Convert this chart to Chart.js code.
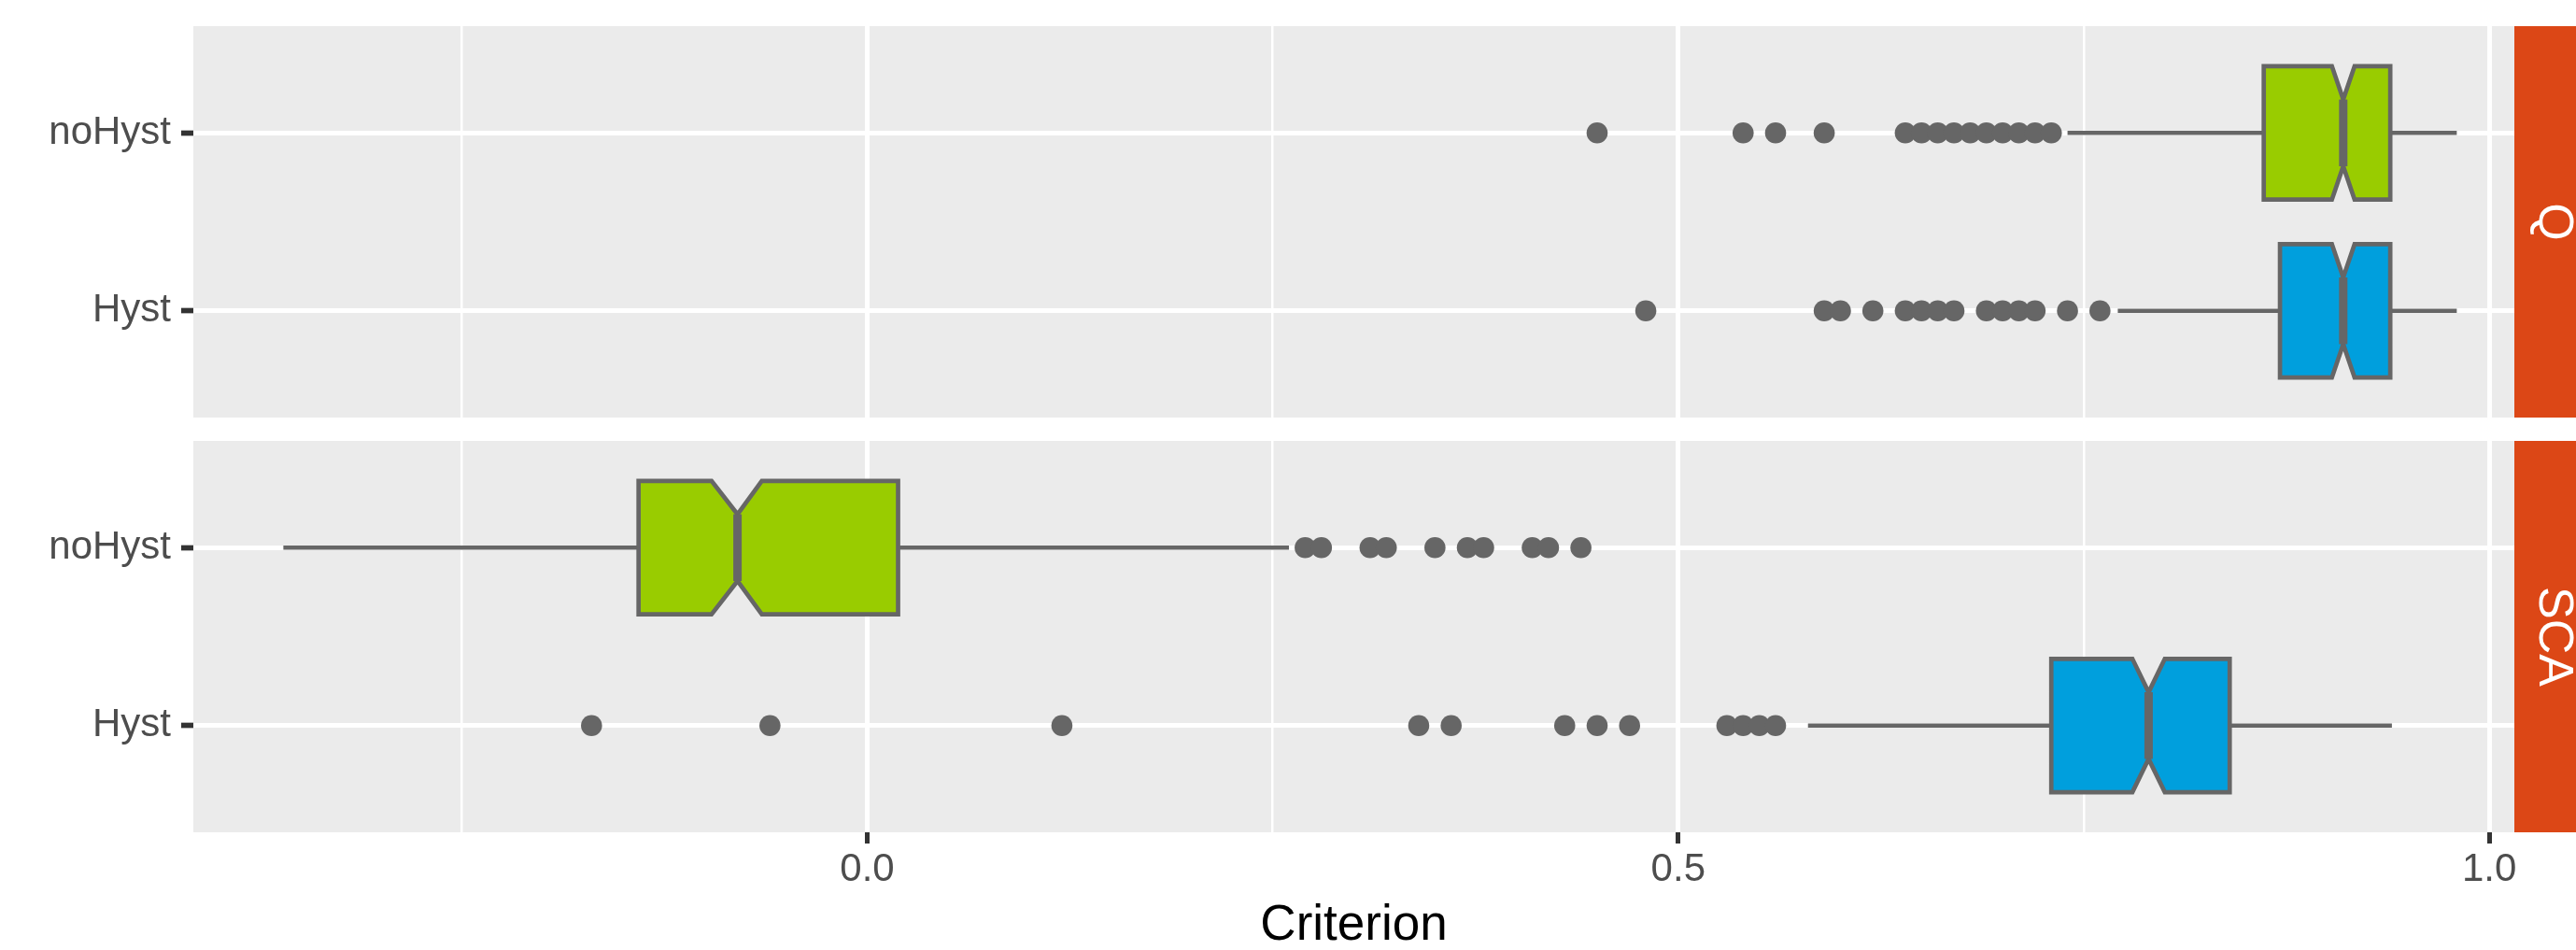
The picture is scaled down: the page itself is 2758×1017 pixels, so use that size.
<!DOCTYPE html>
<html><head><meta charset="utf-8">
<script src="https://cdn.jsdelivr.net/npm/chart.js@4.4.1/dist/chart.umd.min.js"></script>
<style>
html,body{margin:0;padding:0;background:#fff;overflow:hidden;}
#wrap{position:relative;width:2758px;height:1017px;}
canvas{position:absolute;left:0;}
</style></head><body>
<div id="wrap">
<canvas id="c1" width="2758" height="472" style="top:0px"></canvas>
<canvas id="c2" width="2758" height="545" style="top:472px"></canvas>
</div>
<script>
// ---- data ----
const facetLabels = ['Q', 'SCA'];
const groupLabels = ['Hyst', 'noHyst'];          // category positions 1, 2 (bottom to top)
const xTickValues = [-0.25, 0, 0.25, 0.5, 0.75, 1.0];
const xTickLabels = ['', '0.0', '', '0.5', '', '1.0'];
const axisTitle = 'Criterion';
const boxColors = ['#009FDD', '#99CC00'];        // Hyst, noHyst

// [whiskerLow, q1, notchLow, median, notchHigh, q3, whiskerHigh]
const qNoHystStats   = [0.740, 0.861, 0.903, 0.910, 0.917, 0.939, 0.980];
const qHystStats     = [0.771, 0.871, 0.903, 0.910, 0.917, 0.939, 0.980];
const scaNoHystStats = [-0.360, -0.141, -0.096, -0.080, -0.065, 0.019, 0.260];
const scaHystStats   = [0.580, 0.730, 0.780, 0.790, 0.800, 0.840, 0.940];

const qNoHystOutliers   = [0.45, 0.54, 0.56, 0.59, 0.64, 0.65, 0.66, 0.67, 0.68, 0.69, 0.70, 0.71, 0.72, 0.73];
const qHystOutliers     = [0.48, 0.59, 0.60, 0.62, 0.64, 0.65, 0.66, 0.67, 0.69, 0.70, 0.71, 0.72, 0.74, 0.76];
const scaNoHystOutliers = [0.27, 0.28, 0.31, 0.32, 0.35, 0.37, 0.38, 0.41, 0.42, 0.44];
const scaHystOutliers   = [-0.17, -0.06, 0.12, 0.34, 0.36, 0.43, 0.45, 0.47, 0.53, 0.54, 0.55, 0.56];

const xMin = -0.4155, xMax = 1.0155;

// ---- helpers ----
const FONT = '"Liberation Sans", Arial, sans-serif';
const isMajor = v => Math.abs(v * 2 - Math.round(v * 2)) < 1e-9;

const boxPlugin = {
  id: 'boxes',
  beforeDraw(chart, args, opts) {
    const {ctx, chartArea: a} = chart;
    ctx.save();
    ctx.fillStyle = '#EBEBEB';
    ctx.fillRect(a.left, a.top, a.right - a.left, a.bottom - a.top);
    ctx.fillStyle = '#DC4716';
    ctx.fillRect(a.right, a.top, chart.width - a.right, a.bottom - a.top);
    ctx.fillStyle = '#FFFFFF';
    ctx.font = '52px ' + FONT;
    ctx.translate(a.right + 27, (a.top + a.bottom) / 2);
    ctx.rotate(Math.PI / 2);
    ctx.textAlign = 'center';
    ctx.textBaseline = 'alphabetic';
    ctx.fillText(opts.facet, 0, 0);
    ctx.restore();
  },
  beforeDatasetsDraw(chart, args, opts) {
    const ctx = chart.ctx, xs = chart.scales.x, ys = chart.scales.y;
    ctx.save();
    opts.groups.forEach(g => {
      const p = g.stats.map(v => xs.getPixelForValue(v));
      const yc = ys.getPixelForValue(g.pos);
      const half = Math.abs(ys.getPixelForValue(g.pos + 0.375) - yc);
      const inner = half * 0.5;
      ctx.strokeStyle = '#666666';
      ctx.lineCap = 'butt';
      ctx.lineJoin = 'miter';
      ctx.lineWidth = 4.7;
      ctx.beginPath();
      ctx.moveTo(p[0], yc); ctx.lineTo(p[1], yc);
      ctx.moveTo(p[5], yc); ctx.lineTo(p[6], yc);
      ctx.stroke();
      ctx.beginPath();
      ctx.moveTo(p[1], yc - half);
      ctx.lineTo(p[2], yc - half);
      ctx.lineTo(p[3], yc - inner);
      ctx.lineTo(p[4], yc - half);
      ctx.lineTo(p[5], yc - half);
      ctx.lineTo(p[5], yc + half);
      ctx.lineTo(p[4], yc + half);
      ctx.lineTo(p[3], yc + inner);
      ctx.lineTo(p[2], yc + half);
      ctx.lineTo(p[1], yc + half);
      ctx.closePath();
      ctx.fillStyle = g.color;
      ctx.fill();
      ctx.stroke();
      ctx.lineWidth = 9;
      ctx.beginPath();
      ctx.moveTo(p[3], yc - inner); ctx.lineTo(p[3], yc + inner);
      ctx.stroke();
    });
    ctx.restore();
  }
};

function makeChart(id, facet, noStats, hyStats, noOut, hyOut, bottomAxis) {
  const xScale = {
    type: 'linear', min: xMin, max: xMax,
    afterBuildTicks: s => { s.ticks = xTickValues.map(v => ({value: v})); },
    afterFit: s => { s.height = bottomAxis ? 126 : 25; s.paddingLeft = 0; s.paddingRight = 0; },
    border: {display: false},
    grid: {
      color: '#FFFFFF',
      lineWidth: c => isMajor(c.tick.value) ? 5 : 2.5,
      drawTicks: bottomAxis,
      tickLength: 12,
      tickWidth: 5,
      tickColor: c => isMajor(c.tick.value) ? '#333333' : 'rgba(0,0,0,0)'
    },
    ticks: {
      display: bottomAxis,
      autoSkip: false, maxRotation: 0, padding: 3,
      color: '#4D4D4D',
      font: {family: FONT, size: 42},
      callback: (v, i) => xTickLabels[xTickValues.indexOf(v)] ?? ''
    },
    title: {
      display: bottomAxis, text: axisTitle, color: '#000000',
      font: {family: FONT, size: 53, lineHeight: 0.95},
      padding: {top: 0, bottom: 0}
    }
  };
  const yScale = {
    type: 'linear', min: 0.4, max: 2.6,
    afterBuildTicks: s => { s.ticks = groupLabels.map((g, i) => ({value: i + 1})); },
    afterFit: s => { s.width = 207; s.paddingTop = 0; s.paddingBottom = 0; },
    border: {display: false},
    grid: {
      color: '#FFFFFF', lineWidth: 5,
      drawTicks: true, tickLength: 13, tickWidth: 5.7, tickColor: '#333333'
    },
    ticks: {
      autoSkip: false, padding: 11,
      color: '#4D4D4D',
      font: {family: FONT, size: 42},
      callback: v => groupLabels[Math.round(v) - 1] ?? ''
    }
  };
  return new Chart(document.getElementById(id), {
    type: 'scatter',
    data: {
      datasets: [
        {data: noOut.map(v => ({x: v, y: 2})), pointRadius: 11.3, pointHoverRadius: 11.3,
         backgroundColor: '#666666', borderWidth: 0},
        {data: hyOut.map(v => ({x: v, y: 1})), pointRadius: 11.3, pointHoverRadius: 11.3,
         backgroundColor: '#666666', borderWidth: 0}
      ]
    },
    options: {
      responsive: false, animation: false, devicePixelRatio: 1,
      layout: {autoPadding: false, padding: {top: bottomAxis ? 0 : 28, right: 66, left: 0, bottom: 0}},
      scales: {x: xScale, y: yScale},
      plugins: {
        legend: {display: false}, tooltip: {enabled: false},
        boxes: {
          facet: facet,
          groups: [
            {pos: 2, stats: noStats, color: boxColors[1]},
            {pos: 1, stats: hyStats, color: boxColors[0]}
          ]
        }
      }
    },
    plugins: [boxPlugin]
  });
}

makeChart('c1', facetLabels[0], qNoHystStats, qHystStats, qNoHystOutliers, qHystOutliers, false);
makeChart('c2', facetLabels[1], scaNoHystStats, scaHystStats, scaNoHystOutliers, scaHystOutliers, true);
</script>
</body></html>
